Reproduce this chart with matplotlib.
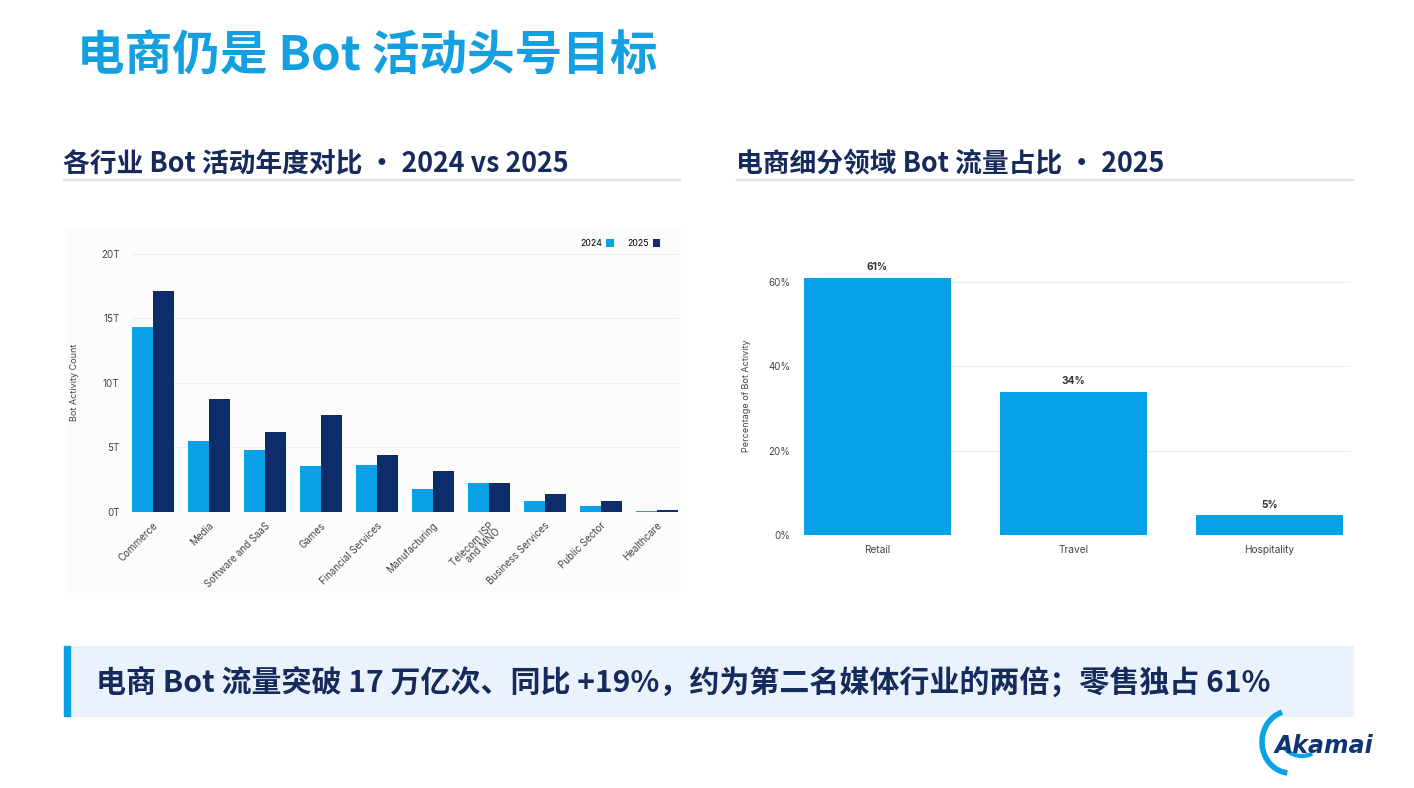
import numpy as np
import matplotlib
matplotlib.use('Agg')
import matplotlib.pyplot as plt
from matplotlib.patches import Rectangle, Arc

plt.rcParams['font.family'] = ['Noto Sans CJK SC', 'DejaVu Sans']

# ---- data ----
industries = ['Commerce', 'Media', 'Software and SaaS', 'Games', 'Financial Services',
              'Manufacturing', 'Telecom ISP\nand MNO', 'Business Services', 'Public Sector', 'Healthcare']
bots_2024 = [14.35, 5.5, 4.8, 3.57, 3.67, 1.81, 2.25, 0.83, 0.47, 0.05]
bots_2025 = [17.1, 8.75, 6.16, 7.48, 4.4, 3.16, 2.25, 1.37, 0.88, 0.13]
y_ticks_left = [0, 5, 10, 15, 20]

segments = ['Retail', 'Travel', 'Hospitality']
seg_share = [61, 34, 4.7]
seg_labels = ['61%', '34%', '5%']
y_ticks_right = [0, 20, 40, 60]

title = '电商仍是 Bot 活动头号目标'
sub_left = '各行业 Bot 活动年度对比 • 2024 vs 2025'
sub_right = '电商细分领域 Bot 流量占比 • 2025'
callout = '电商 Bot 流量突破 17 万亿次、同比 +19%，约为第二名媒体行业的两倍；零售独占 61%'

c24 = '#0aa1e6'
c25 = '#0c2d6a'
navy = '#162a5c'
W, H = 1414, 788

fig = plt.figure(figsize=(W / 100, H / 100), dpi=100)
fig.patch.set_facecolor('white')

def px_axes(x0, y0, x1, y1, **kw):
    return fig.add_axes([x0 / W, 1 - y1 / H, (x1 - x0) / W, (y1 - y0) / H], **kw)

# background layer in pixel coords
bg = px_axes(0, 0, W, H)
bg.set_xlim(0, W)
bg.set_ylim(H, 0)
bg.axis('off')
bg.set_zorder(-5)

bg.text(77, 57, title, fontsize=34.3, fontweight='bold', color='#14a0e0', va='center', ha='left')
bg.text(63, 163, sub_left, fontsize=19.3, fontweight='bold', color=navy, va='center', ha='left')
bg.text(736, 163, sub_right, fontsize=19.3, fontweight='bold', color=navy, va='center', ha='left')
bg.plot([64, 680], [180, 180], color='#dfe3ec', lw=1.6)
bg.plot([737, 1353], [180, 180], color='#dfe3ec', lw=1.6)

# faint chart panels
bg.add_patch(Rectangle((66, 228), 614, 364, color='#fcfcfd', zorder=0))

# callout
bg.add_patch(Rectangle((64, 646), 1289, 70, color='#eaf3fc', zorder=1))
bg.add_patch(Rectangle((64, 646), 6, 70, color='#0a9fe3', zorder=2))
bg.text(96, 682, callout, fontsize=21.6, fontweight='bold', color=navy, va='center', ha='left', zorder=3)

# logo
bg.add_patch(Arc((1290, 742), 56, 62, theta1=95, theta2=255, color='#0aa1e6', lw=4, zorder=3))
bg.add_patch(Arc((1302, 736), 44, 40, theta1=60, theta2=150, color='#0aa1e6', lw=3, zorder=3))
bg.text(1324, 746, 'Akamai', fontsize=17, fontweight='bold', fontstyle='italic', color='#0f3474',
        family=['DejaVu Sans'], va='center', ha='center', zorder=3)

chart_font = ['Inter', 'DejaVu Sans']

# ---- left chart ----
ax1 = px_axes(131.9, 253.5, 678.9, 512)
ax1.patch.set_alpha(0)
x = np.arange(len(industries))
bw = 0.375
ax1.bar(x - bw / 2, bots_2024, bw, color=c24, label='2024', zorder=3)
ax1.bar(x + bw / 2, bots_2025, bw, color=c25, label='2025', zorder=3)
ax1.set_xlim(-0.375, 9.4)
ax1.set_ylim(0, 20)
ax1.set_yticks(y_ticks_left)
ax1.set_yticklabels([f'{v}T' for v in y_ticks_left], fontsize=7, color='#444444', family=chart_font)
ax1.set_xticks(x)
ax1.set_xticklabels(industries, rotation=45, ha='right', rotation_mode='anchor',
                    fontsize=7, color='#444444', family=chart_font, linespacing=0.9)
ax1.tick_params(length=0, pad=6)
ax1.tick_params(axis='y', pad=9)
ax1.grid(axis='y', color='#eeeeee', lw=0.8, zorder=0)
for s in ax1.spines.values():
    s.set_visible(False)
ax1.set_ylabel('Bot Activity Count', fontsize=6.5, color='#444444', family=chart_font, labelpad=16)
ax1.legend(loc='lower right', bbox_to_anchor=(0.975, 1.0), ncol=2, markerfirst=False,
           frameon=False, handlelength=0.85, handleheight=1.1, columnspacing=1.6,
           handletextpad=0.4, borderaxespad=0.2, prop={'family': chart_font, 'size': 6.3})

# ---- right chart ----
ax2 = px_axes(804, 256.5, 1351, 535)
ax2.patch.set_alpha(0)
xs = np.arange(len(segments))
bars = ax2.bar(xs, seg_share, 0.75, color='#08a0e8', zorder=3)
ax2.set_xlim(-0.375, 2.416)
ax2.set_ylim(0, 66)
ax2.set_yticks(y_ticks_right)
ax2.set_yticklabels([f'{v}%' for v in y_ticks_right], fontsize=7, color='#444444', family=chart_font)
ax2.set_xticks(xs)
ax2.set_xticklabels(segments, fontsize=7.3, color='#444444', family=chart_font)
ax2.tick_params(length=0, pad=7)
ax2.tick_params(axis='y', pad=10)
ax2.grid(axis='y', color='#eeeeee', lw=0.8, zorder=0)
for s in ax2.spines.values():
    s.set_visible(False)
ax2.set_ylabel('Percentage of Bot Activity', fontsize=6.5, color='#444444', family=chart_font, labelpad=12)
for b, lab in zip(bars, seg_labels):
    ax2.annotate(lab, (b.get_x() + b.get_width() / 2, b.get_height()), xytext=(0, 4),
                 textcoords='offset points', ha='center', va='bottom', fontsize=7.3,
                 fontweight='bold', color='#333333', family=chart_font)

fig.savefig('out.png', dpi=100)
